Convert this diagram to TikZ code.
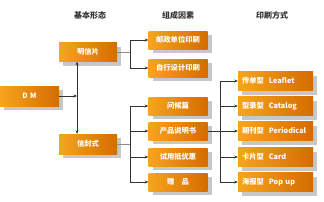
\documentclass[tikz,border=0pt]{standalone}
\usepackage{fontspec}
\setmainfont{Noto Sans CJK SC}
\usetikzlibrary{shadows,arrows.meta}
\begin{document}
\begin{tikzpicture}[x=1pt,y=-1pt,
  obox/.style={draw=none,left color={rgb,255:red,246;green,165;blue,30},right color={rgb,255:red,212;green,108;blue,0},
    drop shadow={shadow xshift=4pt,shadow yshift=-4pt,fill=black!22,opacity=1},
    text=white,font=\bfseries\fontsize{7.3}{8}\selectfont,inner sep=0pt},
  lbox/.style={obox,minimum width=58pt,minimum height=19pt},
  mbox/.style={obox,minimum width=59pt,minimum height=18pt},
  rbox/.style={obox,minimum width=75pt,minimum height=19pt,text width=67pt,align=left},
  hdr/.style={font=\bfseries\fontsize{8}{9}\selectfont,text=black!80},
  conn/.style={draw=black!80,line width=0.6pt},
  arr/.style={conn,-{Stealth[length=3.5pt,width=3pt]}}]
\fill[white] (0,0) rectangle (324,201);
\useasboundingbox (0,0) rectangle (324,201);
\node[hdr] (h1) at (90,15) {基本形态};
\node[hdr] (h2) at (178,15) {组成因素};
\node[hdr] (h3) at (272,15) {印刷方式};
\node[lbox,minimum width=59pt,minimum height=20pt] (dm) at (29.5,96) {D\,\,M};
\node[lbox] (mxp) at (88,52) {明信片};
\node[lbox,minimum height=20pt] (xfs) at (88,144) {信封式};
\node[mbox] (yz) at (178,40) {邮政单位印刷};
\node[mbox] (zx) at (178,68) {自行设计印刷};
\node[mbox] (wh) at (178,106) {问候篇};
\node[mbox] (cp) at (178,131) {产品说明书};
\node[mbox] (sy) at (178,157) {试用抵优惠};
\node[mbox] (zp) at (178,182) {赠\quad 品};
\node[rbox] (r1) at (275.5,81) {传单型\ \ Leaflet};
\node[rbox] (r2) at (275.5,106) {型录型\ \ Catalog};
\node[rbox] (r3) at (275.5,131) {期刊型\ \ Periodical};
\node[rbox] (r4) at (275.5,157) {卡片型\ \ Card};
\node[rbox] (r5) at (275.5,182) {海报型\ \ Pop up};
\coordinate (j0) at (77,96);
\coordinate (c1) at (130,52);
\coordinate (c2) at (130,144);
\coordinate (c3) at (220,131);
\draw[arr] (dm.east) -- (j0);
\draw[conn,{Stealth[length=3.5pt,width=3pt]}-{Stealth[length=3.5pt,width=3pt]}] (j0 |- mxp.south) -- (j0 |- xfs.north);
\draw[conn,draw=black!45] (mxp.east) -- (c1);
\draw[arr] (c1) |- (yz.west);
\draw[arr] (c1) |- (zx.west);
\draw[conn,draw=black!45] (xfs.east) -- (c2);
\draw[arr] (c2) |- (wh.west);
\draw[arr] (c2) |- (cp.west);
\draw[arr] (c2) |- (sy.west);
\draw[arr] (c2) |- (zp.west);
\draw[conn] (cp.east) -- (c3);
\draw[arr] (c3) |- (r1.west);
\draw[arr] (c3) |- (r2.west);
\draw[arr] (c3) |- (r3.west);
\draw[arr] (c3) |- (r4.west);
\draw[arr] (c3) |- (r5.west);
\end{tikzpicture}
\end{document}
